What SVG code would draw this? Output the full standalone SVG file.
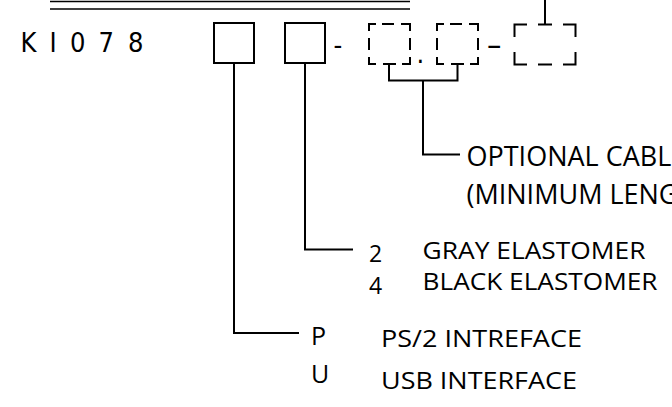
<svg xmlns="http://www.w3.org/2000/svg" width="672" height="407" viewBox="0 0 672 407">
<style>
.ln{fill:none;stroke:#000;stroke-width:2}
.db{fill:none;stroke:#000;stroke-width:2;stroke-linecap:butt}
.code{font-family:"DejaVu Sans Condensed","DejaVu Sans",sans-serif;font-size:27px;fill:#000}
.lbl{font-family:"Open Sans","Noto Sans",sans-serif;font-size:23px;fill:#000}
.big{font-family:"Open Sans","Noto Sans",sans-serif;font-size:27px;fill:#000}
</style>
<rect width="672" height="407" fill="#fff"/>
<g id="header">
<path class="ln" style="stroke-width:1.6" d="M50,1.5 H410 M50,9 H410"/>
</g>
<g id="code">
<text class="code" y="51.7"><tspan x="20.5">K</tspan><tspan x="49.5">I</tspan><tspan x="70">0</tspan><tspan x="98.5">7</tspan><tspan x="128">8</tspan></text>
</g>
<g id="box-interface">
<rect class="ln" x="214" y="23" width="40" height="40"/>
</g>
<g id="box-elastomer">
<rect class="ln" x="285" y="23" width="40" height="40"/>
</g>
<g id="sep-hyphen"><text class="code" x="333.5" y="53.6">-</text></g>
<g id="box-opt1">
<path class="db" d="M369,31 V24 H376 M382,24 H394 M401,24 H410 V31 M410,38 V50 M410,57 V64 H402 M396,64 H383 M376,64 H369 V57 M369,50 V38"/>
</g>
<g id="sep-dot"><text class="code" x="416.4" y="62.5">.</text></g>
<g id="box-opt2">
<path class="db" d="M437,31 V24 H444 M450,24 H462 M469,24 H478 V31 M478,38 V50 M478,57 V64 H470 M464,64 H451 M444,64 H437 V57 M437,50 V38"/>
</g>
<g id="sep-dash"><text class="code" x="487" y="56" style="font-size:32px">–</text></g>
<g id="box-opt3">
<path class="db" d="M514.5,37 V24.5 H527 M538,24.5 H552 M563,24.5 H575.5 V37 M575.5,52 V64.5 H563 M552,64.5 H538 M527,64.5 H514.5 V52"/>
</g>
<g id="connectors">
<path class="ln" d="M545,0 V24.5"/>
<path class="ln" d="M234,63 V333 H299"/>
<path class="ln" d="M305,63 V249.5 H353"/>
<path class="ln" d="M389,64 V80.5 H457.5 V64 M423,80.5 V154.5 H460"/>
</g>
<g id="label-cable">
<text class="big" x="466.5" y="166">OPTIONAL CABL</text>
<text class="big" x="466.5" y="203.5">(MINIMUM LENG</text>
</g>
<g id="label-elastomer">
<text class="lbl" x="369" y="262">2</text>
<text class="lbl" x="422.5" y="258.5" textLength="223" lengthAdjust="spacingAndGlyphs">GRAY ELASTOMER</text>
<text class="lbl" x="369" y="293.5">4</text>
<text class="lbl" x="422.5" y="290" textLength="235" lengthAdjust="spacingAndGlyphs">BLACK ELASTOMER</text>
</g>
<g id="label-interface">
<text class="lbl" x="311" y="345" style="font-size:25px">P</text>
<text class="lbl" x="381" y="346.7" textLength="201" lengthAdjust="spacingAndGlyphs">PS/2 INTREFACE</text>
<text class="lbl" x="311" y="383.3" style="font-size:25px">U</text>
<text class="lbl" x="381" y="388.5" textLength="196" lengthAdjust="spacingAndGlyphs">USB INTERFACE</text>
</g>
</svg>
